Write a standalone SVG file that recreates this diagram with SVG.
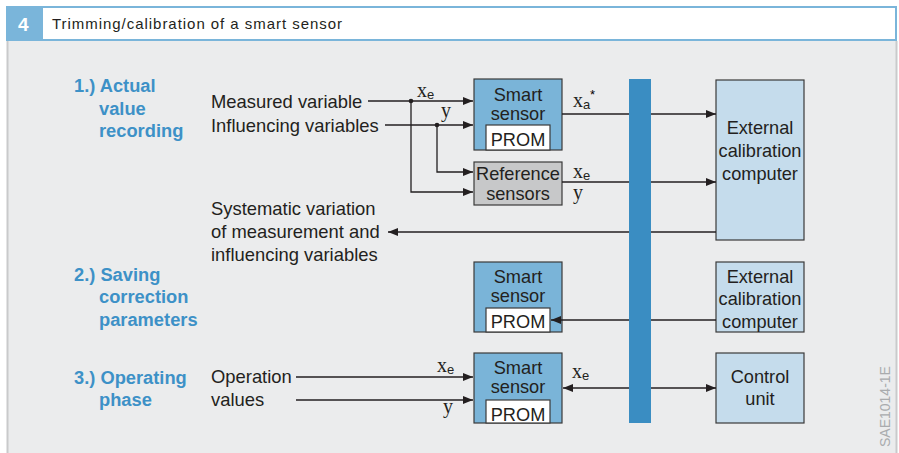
<svg xmlns="http://www.w3.org/2000/svg" width="899" height="453" viewBox="0 0 899 453">
  <style>
    .lbl { font-family: "Liberation Sans", Arial, sans-serif; font-size: 18.4px; fill: #231f20; }
    .box { font-family: "Liberation Sans", Arial, sans-serif; font-size: 18.2px; fill: #231f20; text-anchor: middle; }
    .step { font-family: "Liberation Sans", Arial, sans-serif; font-size: 18.3px; font-weight: bold; fill: #3d91c7; }
    .var { font-family: "Liberation Serif", "Times New Roman", serif; font-size: 20px; fill: #231f20; }
    .sub { font-family: "Liberation Sans", Arial, sans-serif; font-size: 13px; }
    .smart { fill: #7ab4d8; stroke: #3a3a3a; stroke-width: 1.2; }
    .ext { fill: #c5dcec; stroke: #3a3a3a; stroke-width: 1.2; }
    .ref { fill: #c7c8c9; stroke: #3a3a3a; stroke-width: 1.2; }
    .prom { fill: #ffffff; stroke: #3a3a3a; stroke-width: 1.2; }
    .wire { fill: none; stroke: #231f20; stroke-width: 1.3; }
    .arr { marker-end: url(#head); }
  </style>
  <defs>
    <marker id="head" viewBox="0 0 10 8" refX="10" refY="4" markerWidth="10" markerHeight="8" markerUnits="userSpaceOnUse" orient="auto">
      <path d="M0,0 L10,4 L0,8 Z" fill="#231f20"/>
    </marker>
  </defs>

  <!-- frame -->
  <rect x="0" y="0" width="899" height="453" fill="#ffffff"/>
  <rect x="7" y="41" width="890" height="412" fill="#ebeced"/>
  <line x1="7.5" y1="41" x2="7.5" y2="453" stroke="#c9cacb" stroke-width="2"/>
  <line x1="896.5" y1="41" x2="896.5" y2="453" stroke="#c9cacb" stroke-width="2"/>

  <!-- header -->
  <g id="header">
    <rect x="6" y="6" width="36" height="35" fill="#7ab5da"/>
    <rect x="42" y="7" width="854" height="33" fill="#ffffff" stroke="#7ab5da" stroke-width="2"/>
    <text x="18" y="31" font-family="Liberation Sans, Arial, sans-serif" font-size="19" font-weight="bold" fill="#ffffff">4</text>
    <text x="52" y="29" font-family="Liberation Sans, Arial, sans-serif" font-size="15" fill="#231f20" textLength="290" lengthAdjust="spacing">Trimming/calibration of a smart sensor</text>
  </g>

  <!-- step headings -->
  <g id="step1">
    <text class="step" x="74" y="92">1.) Actual</text>
    <text class="step" x="99" y="115">value</text>
    <text class="step" x="99" y="137">recording</text>
  </g>
  <g id="step2">
    <text class="step" x="74" y="281">2.) Saving</text>
    <text class="step" x="99" y="303">correction</text>
    <text class="step" x="99" y="326">parameters</text>
  </g>
  <g id="step3">
    <text class="step" x="74" y="384">3.) Operating</text>
    <text class="step" x="99" y="406">phase</text>
  </g>

  <!-- input / output labels -->
  <g id="labels">
    <text class="lbl" x="211" y="108">Measured variable</text>
    <text class="lbl" x="211" y="132">Influencing variables</text>
    <text class="lbl" x="211" y="215">Systematic variation</text>
    <text class="lbl" x="211" y="238">of measurement and</text>
    <text class="lbl" x="211" y="261">influencing variables</text>
    <text class="lbl" x="211" y="383">Operation</text>
    <text class="lbl" x="211" y="406">values</text>
  </g>

  <!-- data bus -->
  <g id="bus">
    <rect x="629" y="79" width="22" height="344" fill="#3a8dc2"/>
  </g>

  <g id="smart-sensor-1">
    <rect class="smart" x="474" y="79" width="88" height="71"/>
    <rect class="prom" x="486" y="125" width="64" height="25"/>
    <text class="box" x="518" y="101">Smart</text>
    <text class="box" x="518" y="120">sensor</text>
    <text class="box" x="518" y="146">PROM</text>
  </g>

  <g id="reference-sensors">
    <rect class="ref" x="474" y="162" width="88" height="43"/>
    <text class="box" x="518" y="180">Reference</text>
    <text class="box" x="518" y="200">sensors</text>
  </g>

  <g id="calibration-computer-1">
    <rect class="ext" x="716" y="80" width="88" height="160"/>
    <text class="box" x="760" y="134">External</text>
    <text class="box" x="760" y="157">calibration</text>
    <text class="box" x="760" y="180">computer</text>
  </g>

  <g id="smart-sensor-2">
    <rect class="smart" x="474" y="262" width="88" height="70"/>
    <rect class="prom" x="486" y="308" width="64" height="24"/>
    <text class="box" x="518" y="283">Smart</text>
    <text class="box" x="518" y="302">sensor</text>
    <text class="box" x="518" y="328">PROM</text>
  </g>

  <g id="calibration-computer-2">
    <rect class="ext" x="716" y="262" width="88" height="70"/>
    <text class="box" x="760" y="283">External</text>
    <text class="box" x="760" y="305">calibration</text>
    <text class="box" x="760" y="328">computer</text>
  </g>

  <g id="smart-sensor-3">
    <rect class="smart" x="474" y="353" width="88" height="70"/>
    <rect class="prom" x="486" y="400" width="64" height="23"/>
    <text class="box" x="518" y="374">Smart</text>
    <text class="box" x="518" y="393">sensor</text>
    <text class="box" x="518" y="421">PROM</text>
  </g>

  <g id="control-unit">
    <rect class="ext" x="716" y="353" width="88" height="70"/>
    <text class="box" x="760" y="383">Control</text>
    <text class="box" x="760" y="405">unit</text>
  </g>

  <!-- connectors, drawn over the boxes so arrowheads stay visible -->
  <g id="connectors">
    <path class="wire arr" d="M368,101 H473"/>
    <path class="wire arr" d="M385,125 H473"/>
    <path class="wire arr" d="M437,125 V172 H473"/>
    <path class="wire arr" d="M411,101 V192 H473"/>
    <circle cx="411" cy="101" r="2.3" fill="#231f20"/>
    <circle cx="437" cy="125" r="2.3" fill="#231f20"/>

    <path class="wire" d="M562,114 H629"/>
    <path class="wire arr" d="M651,114 H716"/>
    <path class="wire" d="M562,182 H629"/>
    <path class="wire arr" d="M651,182 H716"/>
    <path class="wire" d="M716,232 H651"/>
    <path class="wire arr" d="M629,232 H388"/>

    <path class="wire arr" d="M629,320 H551"/>
    <path class="wire" d="M651,320 H716"/>

    <path class="wire arr" d="M296,377 H473"/>
    <path class="wire arr" d="M296,400 H473"/>
    <path class="wire arr" d="M629,388 H563"/>
    <path class="wire arr" d="M651,388 H716"/>

    <!-- signal names -->
    <text class="var" x="417" y="97">x<tspan class="sub" dy="2">e</tspan></text>
    <text class="var" x="441" y="117">y</text>
    <text class="var" x="573" y="107">x<tspan class="sub" dy="2">a</tspan></text>
    <text class="sub" x="590" y="99" font-size="12">*</text>
    <text class="var" x="573" y="178">x<tspan class="sub" dy="2">e</tspan></text>
    <text class="var" x="573" y="199">y</text>
    <text class="var" x="437" y="372">x<tspan class="sub" dy="2">e</tspan></text>
    <text class="var" x="443" y="413">y</text>
    <text class="var" x="572" y="378">x<tspan class="sub" dy="2">e</tspan></text>
  </g>

  <text x="890" y="447" transform="rotate(-90 890 447)" font-family="Liberation Sans, Arial, sans-serif" font-size="14" fill="#a9abad">SAE1014-1E</text>
</svg>
